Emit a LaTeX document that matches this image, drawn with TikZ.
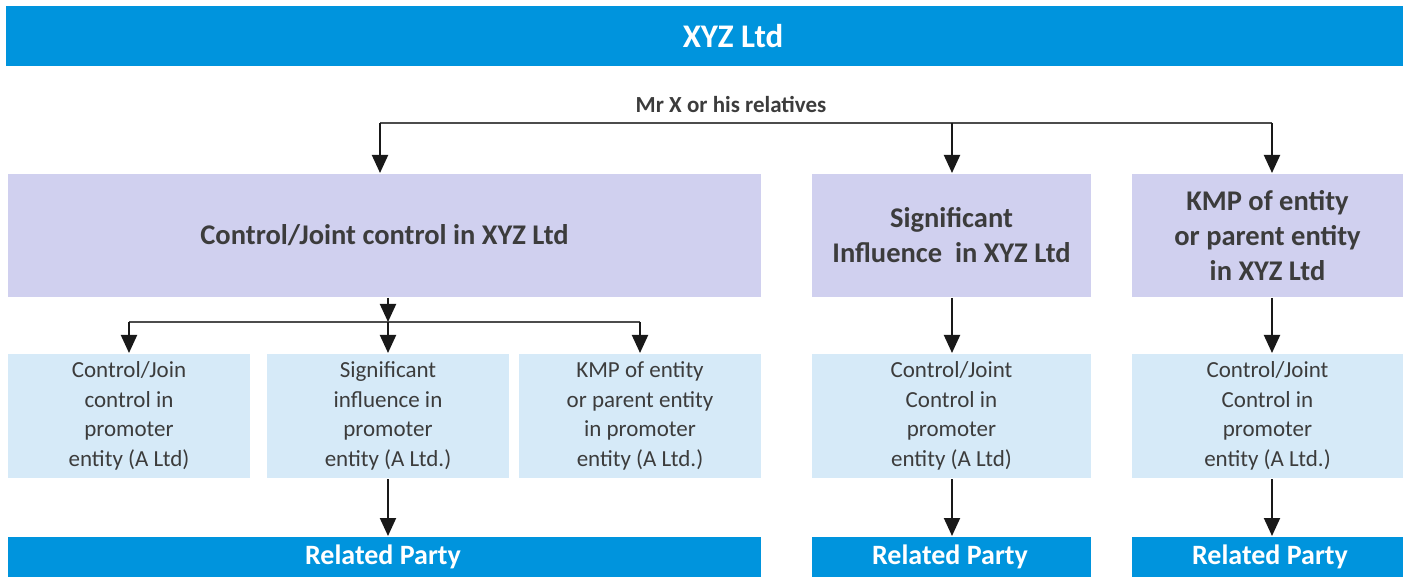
\documentclass[tikz,border=0pt]{standalone}
\usepackage{fontspec}
\setmainfont{Carlito}
\usetikzlibrary{arrows.meta}
\definecolor{barblue}{HTML}{0094DD}
\definecolor{lilac}{HTML}{D0D0EF}
\definecolor{paleblue}{HTML}{D6EAF8}
\definecolor{inkgray}{HTML}{3C3C3C}
\tikzset{
  bar/.style={fill=barblue, inner sep=0pt},
  bartext/.style={text=white, font=\fontsize{28}{32}\selectfont\bfseries, inner sep=0pt},
  headbox/.style={fill=lilac, text=inkgray, align=center, inner sep=0pt, minimum height=123pt,
    font=\fontsize{28.5}{35}\selectfont\bfseries},
  subbox/.style={fill=paleblue, text=inkgray, align=center, inner sep=0pt, minimum width=242pt, minimum height=124pt,
    font=\fontsize{23}{29.5}\selectfont},
  arr/.style={-{Triangle[width=16pt,length=18pt]}},
  rail/.style={draw=black!70, line width=1.4pt},
}
\begin{document}
\begin{tikzpicture}[x=1pt, y=-1pt, line width=2pt, draw=black!90]
\useasboundingbox (0,0) rectangle (1414,577);
\node[bar, minimum width=1397pt, minimum height=60pt] (top) at (704.5,36) {};
\node[bartext, font=\fontsize{33}{36}\selectfont\bfseries] (xyz) at (733,36) {XYZ Ltd};
\node[text=inkgray, font=\fontsize{23}{26}\selectfont\bfseries] (mrx) at (731,105) {Mr X or his relatives};
\node[headbox, minimum width=753pt] (ctrl) at (384.5,235.5) {Control/Joint control in XYZ Ltd};
\node[headbox, minimum width=279pt] (sig) at (951.5,235.5) {Significant\\Influence~~in XYZ Ltd};
\node[headbox, minimum width=271pt] (kmp) at (1267.5,235.5) {KMP of entity\\or parent entity\\in XYZ Ltd};
\node[subbox] (pc) at (129,416) {Control/Join\\control in\\promoter\\entity (A Ltd)};
\node[subbox] (ps) at (388,416) {Significant\\influence in\\promoter\\entity (A Ltd.)};
\node[subbox] (pk) at (640,416) {KMP of entity\\or parent entity\\in promoter\\entity (A Ltd.)};
\node[subbox, minimum width=279pt] (sc) at (951.5,416) {Control/Joint\\Control in\\promoter\\entity (A Ltd)};
\node[subbox, minimum width=271pt] (kc) at (1267.5,416) {Control/Joint\\Control in\\promoter\\entity (A Ltd.)};
\node[bar, minimum width=753pt, minimum height=40pt] (rp1) at (384.5,557) {};
\node[bar, minimum width=279pt, minimum height=40pt] (rp2) at (951.5,557) {};
\node[bar, minimum width=271pt, minimum height=40pt] (rp3) at (1267.5,557) {};
\node[bartext] at (383,557) {Related Party};
\node[bartext] at (950,557) {Related Party};
\node[bartext] at (1270,557) {Related Party};
% Mr X to the three XYZ relations
\coordinate (tl) at (380,123);
\coordinate (tm) at (952,123);
\coordinate (tr) at (1272,123);
\draw[rail] (tl) -- (tr);
\draw[arr] (tl) -- (tl |- ctrl.north);
\draw[arr] (tm) -- (tm |- sig.north);
\draw[arr] (tr) -- (tr |- kmp.north);
% control splits into promoter links
\coordinate (mid) at (388,322);
\draw[arr] (ctrl.south -| mid) -- (mid);
\draw[rail] (pc.north |- mid) -- (pk.north |- mid);
\draw[arr] (pc.north |- mid) -- (pc.north);
\draw[arr] (mid) -- (ps.north);
\draw[arr] (pk.north |- mid) -- (pk.north);
\draw[arr] (sig.south -| tm) -- (tm |- sc.north);
\draw[arr] (kmp.south -| tr) -- (tr |- kc.north);
% down to related party
\draw[arr] (ps.south) -- (ps.south |- rp1.north);
\draw[arr] (sc.south -| tm) -- (tm |- rp2.north);
\draw[arr] (kc.south -| tr) -- (tr |- rp3.north);
\end{tikzpicture}
\end{document}
